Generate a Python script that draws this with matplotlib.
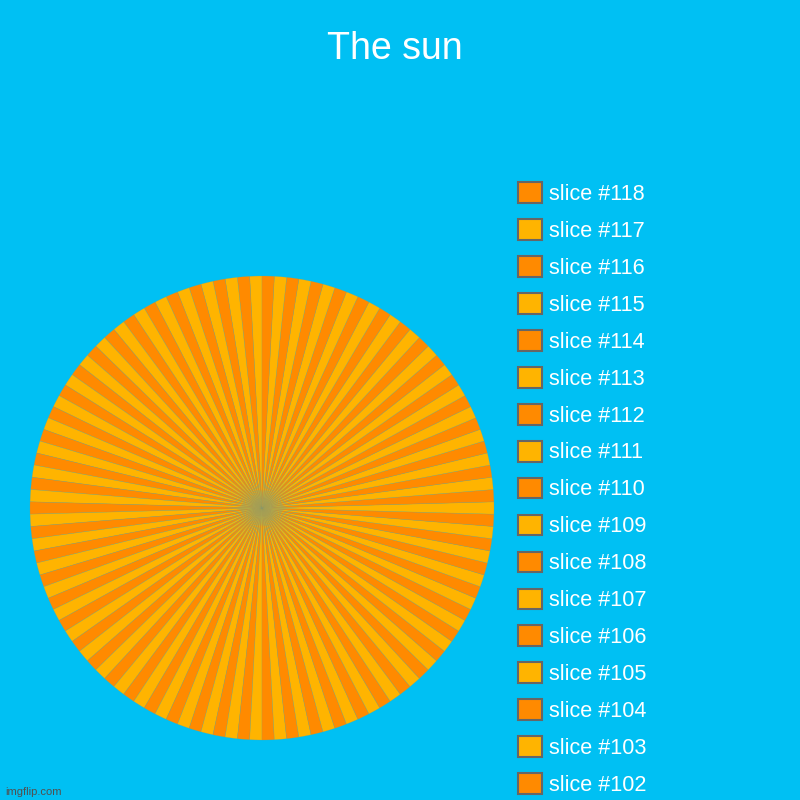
import matplotlib
matplotlib.use('Agg')
import matplotlib.pyplot as plt
from matplotlib.patches import Patch

# Data: 118 equal slices, alternating yellow (odd) and orange (even)
n_slices = 118
labels = ['slice #%d' % i for i in range(1, n_slices + 1)]
values = [1] * n_slices
orange = '#ff8a00'
yellow = '#ffb400'
colors = [yellow if i % 2 == 1 else orange for i in range(1, n_slices + 1)]

bg = '#00c0f3'
plt.rcParams['font.family'] = ['Liberation Sans', 'DejaVu Sans']

fig = plt.figure(figsize=(8, 8), dpi=100, facecolor=bg)
ax = fig.add_axes([30/800, 60/800, 464/800, 464/800])
ax.set_facecolor(bg)

ax.pie(values, colors=colors, startangle=90, counterclock=True,
       wedgeprops=dict(edgecolor=(0.55, 0.62, 0.45, 0.5), linewidth=0.3))
ax.set_xlim(-1, 1)
ax.set_ylim(-1, 1)
ax.set_aspect('equal')
ax.axis('off')

# legend, highest slice first; it runs off the bottom like the original
handles = [Patch(facecolor=c, edgecolor='#666666', linewidth=1.5) for c in colors[::-1]]
fig.legend(handles, labels[::-1], loc='upper left',
           bbox_to_anchor=(518/800, 1 - 182/800), frameon=False,
           fontsize=15.6, labelcolor='white', borderpad=0, borderaxespad=0,
           handlelength=1.1, handleheight=1.1, handletextpad=0.33,
           labelspacing=0.655)

fig.text(0.494, 1 - 49/800, 'The sun', ha='center', va='center',
         fontsize=27, color='white')
fig.text(5/800, 3/800, 'imgflip.com', ha='left', va='bottom',
         fontsize=8, color='#505050')

fig.savefig('out.png', dpi=100, facecolor=bg)
